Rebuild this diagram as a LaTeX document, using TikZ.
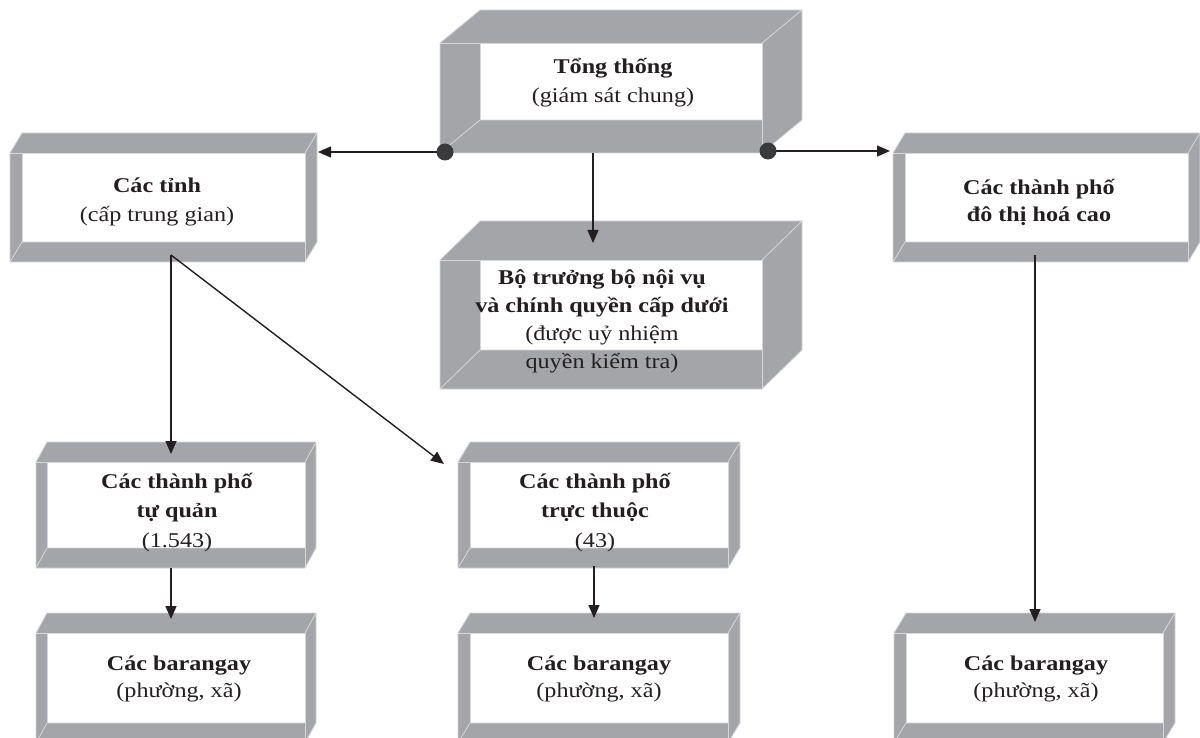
\documentclass[tikz,border=0pt]{standalone}
\usepackage{fontspec}
\setmainfont{Liberation Serif}[FakeStretch=1.15]
\usetikzlibrary{arrows.meta}
\definecolor{boxgrey}{RGB}{164,165,169}
\definecolor{edgegrey}{RGB}{215,215,217}
\definecolor{ink}{RGB}{35,31,32}
\definecolor{dotgrey}{RGB}{58,58,60}
\newcommand\tubebox[6]{%
  \fill[boxgrey] (#1,#2) -- ({#1+#5},{#2-#6}) -- ({#3+#5},{#2-#6}) -- ({#3+#5},{#4-#6}) -- (#3,#4) -- (#1,#4) -- cycle;
  \fill[white] ({#1+#5},#2) rectangle (#3,{#4-#6});
  \draw[edge] (#1,#2) -- ({#1+#5},{#2-#6}) -- ({#3+#5},{#2-#6}) -- ({#3+#5},{#4-#6}) -- (#3,#4) -- (#1,#4) -- cycle;
  \draw[edge] (#1,#2) -- (#3,#2) -- (#3,#4);
  \draw[edge] (#3,#2) -- ({#3+#5},{#2-#6});
  \draw[edge] (#1,#4) -- ({#1+#5},{#4-#6}) -- (#3,{#4-#6});
  \draw[edge] ({#1+#5},#2) -- ({#1+#5},{#4-#6});
}
\begin{document}
\begin{tikzpicture}[x=1pt,y=-1pt,
  edge/.style={draw=edgegrey,line width=0.8pt},
  label/.style={align=center,text=ink,inner sep=0pt,anchor=base,font=\fontsize{21}{29}\selectfont},
  smalllabel/.style={label,font=\fontsize{21}{26.5}\selectfont},
  conn/.style={draw=ink,line width=1.4pt,-{Triangle[length=13pt,width=11pt]}},
  joint/.style={circle,fill=dotgrey,minimum size=17pt,inner sep=0pt}]
\useasboundingbox (0,0) rectangle (1200,738);
\fill[white] (0,0) rectangle (1200,738);

% boxes
\tubebox{440}{43}{762}{153}{40}{33}
\tubebox{10}{153}{305}{262}{12}{20}
\tubebox{893}{153}{1188}{262}{12}{20}
\tubebox{440}{260}{762}{389}{40}{39}
\tubebox{36}{462}{305}{568}{11}{20}
\tubebox{458}{462}{728}{568}{12}{20}
\tubebox{36}{633}{305}{743}{11}{20}
\tubebox{458}{633}{728}{743}{12}{20}
\tubebox{894}{633}{1163}{743}{12}{20}

% texts (anchor = baseline of the last line)
\node[label] (tong) at (613,103) {\textbf{Tổng thống}\\(giám sát chung)};
\node[label] (tinh) at (157,222) {\textbf{Các tỉnh}\\(cấp trung gian)};
\node[label,font=\fontsize{21}{27}\selectfont] (dothi) at (1039,222) {\textbf{Các thành phố}\\\textbf{đô thị hoá cao}};
\node[label,font=\fontsize{21}{27.7}\selectfont] (botruong) at (602,368) {\textbf{Bộ trưởng bộ nội vụ}\\\textbf{và chính quyền cấp dưới}\\(được uỷ nhiệm\\quyền kiểm tra)};
\node[label,font=\fontsize{21}{29.5}\selectfont] (tuquan) at (177,547) {\textbf{Các thành phố}\\\textbf{tự quản}\\(1.543)};
\node[label,font=\fontsize{21}{29.5}\selectfont] (tructhuoc) at (595,547) {\textbf{Các thành phố}\\\textbf{trực thuộc}\\(43)};
\node[smalllabel] (bgA) at (179,697) {\textbf{Các barangay}\\(phường, xã)};
\node[smalllabel] (bgB) at (599,697) {\textbf{Các barangay}\\(phường, xã)};
\node[smalllabel] (bgC) at (1036,697) {\textbf{Các barangay}\\(phường, xã)};

% connector points
\coordinate (tongL) at (445,152);
\coordinate (tongR) at (768,151);
\coordinate (tongS) at (593,153);
\coordinate (tinhE) at (318,152);
\coordinate (dothiW) at (890,151);
\coordinate (botruongN) at (593,243);
\coordinate (tinhS) at (171,255);
\coordinate (tuquanN) at (171,454);
\coordinate (tructhuocNW) at (444,464);
\coordinate (tuquanS) at (171,568);
\coordinate (bgAN) at (171,619);
\coordinate (tructhuocS) at (594,566);
\coordinate (bgBN) at (594,618);
\coordinate (dothiS) at (1035,255);
\coordinate (bgCN) at (1035,622);

\draw[conn] (tongL) -- (tinhE);
\draw[conn] (tongR) -- (dothiW);
\draw[conn] (tongS) -- (botruongN);
\draw[conn] (tinhS) -- (tuquanN);
\draw[conn] (tinhS) -- (tructhuocNW);
\draw[conn] (tuquanS) -- (bgAN);
\draw[conn] (tructhuocS) -- (bgBN);
\draw[conn] (dothiS) -- (bgCN);
\node[joint] (dotL) at (tongL) {};
\node[joint] (dotR) at (tongR) {};
\end{tikzpicture}
\end{document}
